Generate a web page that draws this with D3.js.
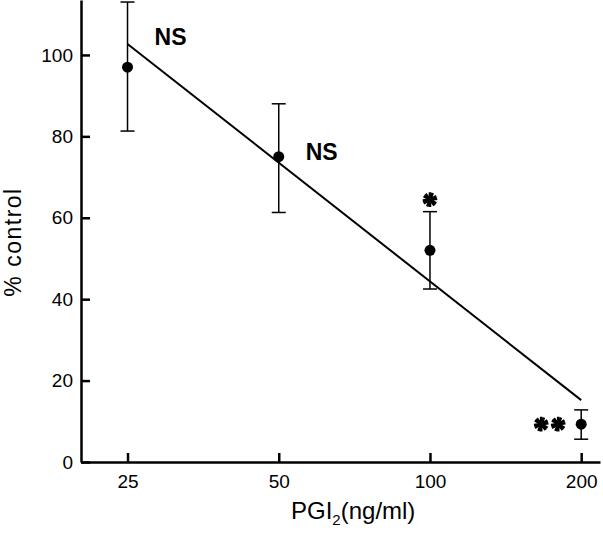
<!DOCTYPE html>
<meta charset="utf-8">
<style>
  body { margin: 0; background: #fff; }
  svg { font-family: "Liberation Sans", Arial, sans-serif; }
  .axis path, .axis line { stroke: #000; stroke-width: 2.5px; }
  .axis text { font-size: 19px; fill: #000; }
  .fit { fill: none; stroke: #000; stroke-width: 2px; }
  .err line { stroke: #000; stroke-width: 1.5px; }
  .dot { fill: #000; }
  .sig { font-weight: bold; font-size: 23px; fill: #000; }
</style>
<body>
<div id="chart"></div>
<script src="https://d3js.org/d3.v7.min.js"></script>
<script>
// PGI2 dose vs % control
var doses = [25, 50, 100, 200];
var means = [97, 75, 52, 9.3];
var upper = [113, 88, 61.5, 12.8];
var lower = [81.3, 61.3, 42.5, 5.6];
var sigLabels = ['NS', 'NS', '*', '**'];
var fitDose = [25, 200];
var fitValue = [102.7, 15.2];
var xTicks = [25, 50, 100, 200];
var yTicks = [0, 20, 40, 60, 80, 100];

var width = 603;
var height = 536;

var x = d3.scaleLog().base(2)
    .domain([20.2, 218])
    .range([81, 600]);

var y = d3.scaleLinear()
    .domain([0, 113.5])
    .range([462, 0]);

var svg = d3.select('#chart').append('svg')
    .attr('width', width)
    .attr('height', height);

// axes
svg.append('g')
    .attr('class', 'axis')
    .attr('transform', 'translate(0,462)')
    .call(d3.axisBottom(x).tickValues(xTicks).tickFormat(d3.format('d')).tickSizeInner(-9).tickSizeOuter(0))
    .call(function (g) {
      g.selectAll('text').attr('dy', 0).attr('y', 26);
    });

svg.append('g')
    .attr('class', 'axis')
    .attr('transform', 'translate(81,0)')
    .call(d3.axisLeft(y).tickValues(yTicks).tickSizeInner(-9).tickSizeOuter(0))
    .call(function (g) {
      g.selectAll('text').attr('x', -8);
    });

// regression line
svg.append('line')
    .attr('class', 'fit')
    .attr('x1', x(fitDose[0])).attr('y1', y(fitValue[0]))
    .attr('x2', x(fitDose[1])).attr('y2', y(fitValue[1]));

var data = doses.map(function (d, i) {
  return { dose: d, mean: means[i], hi: upper[i], lo: lower[i], sig: sigLabels[i] };
});

var err = svg.append('g').attr('class', 'err')
  .selectAll('g')
  .data(data)
  .enter().append('g');

err.append('line')
    .attr('x1', function (d) { return x(d.dose); })
    .attr('x2', function (d) { return x(d.dose); })
    .attr('y1', function (d) { return y(d.hi); })
    .attr('y2', function (d) { return y(d.lo); });

err.selectAll('line.cap')
    .data(function (d) { return [d.hi, d.lo].map(function (v) { return { dose: d.dose, v: v }; }); })
    .enter().append('line')
    .attr('class', 'cap')
    .attr('x1', function (d) { return x(d.dose) - 7; })
    .attr('x2', function (d) { return x(d.dose) + 7; })
    .attr('y1', function (d) { return y(d.v); })
    .attr('y2', function (d) { return y(d.v); });

svg.append('g')
  .selectAll('circle')
  .data(data)
  .enter().append('circle')
    .attr('class', 'dot')
    .attr('cx', function (d) { return x(d.dose); })
    .attr('cy', function (d) { return y(d.mean); })
    .attr('r', 5.5);

// significance marks
data.forEach(function (d) {
  var px = x(d.dose), py = y(d.mean);
  if (d.sig === 'NS') {
    var dy = d.dose === 25 ? -22 : 3;
    svg.append('text')
        .attr('class', 'sig')
        .attr('x', px + 43)
        .attr('y', py + dy)
        .attr('text-anchor', 'middle')
        .text(d.sig);
  } else {
    var n = d.sig.length;
    for (var k = 0; k < n; k++) {
      var cx, cy;
      if (n === 1) { cx = px; cy = y(d.hi) - 12; }
      else { cx = px - 40 + k * 17; cy = py; }
      var star = svg.append('g').attr('transform', 'translate(' + cx + ',' + cy + ')');
      star.append('circle').attr('r', 3.6).attr('fill', '#000');
      [0, 22.5].forEach(function (rot) {
        star.append('path')
            .attr('d', d3.symbol(d3.symbolAsterisk, 150)())
            .attr('transform', 'rotate(' + rot + ')')
            .attr('stroke', '#000')
            .attr('stroke-width', 2.6)
            .attr('fill', 'none');
      });
    }
  }
});

// axis titles
var xt = svg.append('text')
    .attr('x', 291)
    .attr('y', 519)
    .attr('font-size', 24)
    .attr('fill', '#000');
xt.append('tspan').text('PGI');
xt.append('tspan').attr('font-size', 15).attr('dy', 6).text('2');
xt.append('tspan').attr('dy', -6).text('(ng/ml)');

svg.append('text')
    .attr('transform', 'translate(21,242) rotate(-90)')
    .attr('text-anchor', 'middle')
    .attr('font-size', 23)
    .attr('letter-spacing', 1.5)
    .attr('fill', '#000')
    .text('% control');
</script>
</body>
